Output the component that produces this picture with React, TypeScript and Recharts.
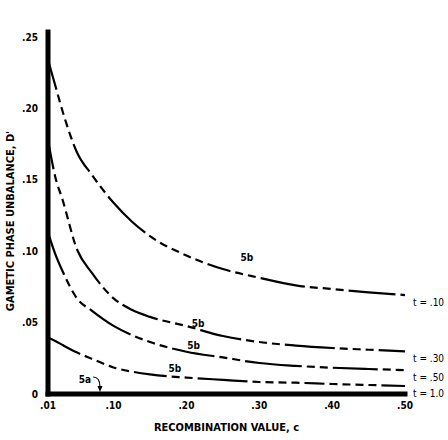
import { LineChart, Line, XAxis, YAxis, ReferenceDot, Label } from "recharts"

// recombination value c (x) and gametic phase unbalance D' for each t
const C_VALUES = [0.01, 0.02, 0.03, 0.05, 0.07, 0.1, 0.125, 0.15, 0.2, 0.25, 0.3, 0.35, 0.4, 0.45, 0.5]
const D_T10 = [0.234, 0.216, 0.198, 0.169, 0.1536, 0.1339, 0.1208, 0.1105, 0.097, 0.0875, 0.0814, 0.0761, 0.0735, 0.0712, 0.0693]
const D_T30 = [0.178, 0.152, 0.136, 0.101, 0.085, 0.067, 0.059, 0.054, 0.0476, 0.0406, 0.0364, 0.0339, 0.0322, 0.031, 0.0298]
const D_T50 = [0.113, 0.098, 0.086, 0.0668, 0.0584, 0.0477, 0.0413, 0.0364, 0.0296, 0.0256, 0.0217, 0.0197, 0.0184, 0.0175, 0.0167]
const D_T100 = [0.0395, 0.0371, 0.0343, 0.029, 0.0247, 0.0186, 0.0157, 0.0137, 0.0115, 0.0099, 0.0084, 0.0079, 0.007, 0.0063, 0.0056]

const SERIES_KEYS = ["t10", "t30", "t50", "t100"]
const SERIES_LABELS = ["t = .10", "t = .30", "t = .50", "t = 1.0"]
const SERIES_VALUES = [D_T10, D_T30, D_T50, D_T100]

const X_TICKS = [0.01, 0.1, 0.2, 0.3, 0.4, 0.5]
const X_TICK_LABELS = [".01", ".10", ".20", ".30", ".40", ".50"]
const Y_TICKS = [0, 0.05, 0.1, 0.15, 0.2, 0.25]
const Y_TICK_LABELS = ["0", ".05", ".10", ".15", ".20", ".25"]

// "5b" region notes, in data coordinates
const NOTE_5B_C = [0.283, 0.216, 0.21, 0.184]
const NOTE_5B_D = [0.0959, 0.0497, 0.0343, 0.0182]
const NOTE_5A = { c: 0.0608, d: 0.0105 }

const data = C_VALUES.map((c, i) => {
    const row: Record<string, number> = { c }
    SERIES_KEYS.forEach((k, s) => { row[k] = SERIES_VALUES[s][i] })
    return row
})

// alternating solid / dashed stretches along each curve (path lengths in px)
const SECTIONS = [
    [31, 55, 32, 30, 52, 65, 24, 26, 45, 37, 47],
    [30, 80, 42, 25, 38, 35, 42, 33, 50, 38, 43],
    [45, 35, 48, 39, 43, 25, 57, 23, 45],
    [36, 49, 33, 32, 50, 53, 20, 47, 33],
]

function dashPattern(sections: number[]): string {
    const out: number[] = []
    sections.forEach((len, i) => {
        if (i % 2 === 0) {
            out.push(len, 5)
        } else {
            const n = Math.max(1, Math.round(len / 13))
            for (let j = 0; j < n; j++) out.push(8, 5)
        }
    })
    for (let j = 0; j < 40; j++) out.push(8, 5)
    return out.join(" ")
}

const FONT = "'DejaVu Sans Condensed', 'DejaVu Sans', sans-serif"

// eslint-disable-next-line @typescript-eslint/no-explicit-any
function YTitle({ viewBox }: any) {
    const x = viewBox.x + 14
    const y = viewBox.y + viewBox.height / 2 + 8
    return (
        <text x={x} y={y} transform={`rotate(-90, ${x}, ${y})`} textAnchor="middle"
            fontFamily={FONT} fontSize={11} fontWeight="bold" fill="#000">
            GAMETIC PHASE UNBALANCE, D'
        </text>
    )
}

// eslint-disable-next-line @typescript-eslint/no-explicit-any
function XTitle({ viewBox }: any) {
    return (
        <text x={viewBox.x + viewBox.width / 2} y={viewBox.y + 37} textAnchor="middle"
            fontFamily={FONT} fontSize={11} fontWeight="bold" fill="#000">
            RECOMBINATION VALUE, c
        </text>
    )
}

export default function App() {
    const last = C_VALUES.length - 1
    return (
        <div style={{ position: "absolute", left: 0, top: 0, width: 448, height: 440, background: "#fff" }}>
            <LineChart width={448} height={440} data={data} margin={{ top: 32, right: 43, left: 0, bottom: 0 }}>
                <XAxis
                    dataKey="c"
                    type="number"
                    domain={[0.01, 0.5]}
                    ticks={X_TICKS}
                    tickFormatter={(v: number) => X_TICK_LABELS[X_TICKS.indexOf(v)] ?? ""}
                    tickLine={false}
                    axisLine={{ stroke: "#000", strokeWidth: 5, strokeLinecap: "square" }}
                    tick={{ fill: "#000", fontSize: 10, fontWeight: "bold", fontFamily: FONT }}
                    height={46}
                    allowDataOverflow
                >
                    <Label content={XTitle} />
                </XAxis>
                <YAxis
                    type="number"
                    domain={[0, 0.2535]}
                    ticks={Y_TICKS}
                    tickFormatter={(v: number) => Y_TICK_LABELS[Y_TICKS.indexOf(v)] ?? ""}
                    tickLine={false}
                    tickMargin={4}
                    axisLine={{ stroke: "#000", strokeWidth: 5, strokeLinecap: "square" }}
                    tick={{ fill: "#000", fontSize: 10, fontWeight: "bold", fontFamily: FONT }}
                    width={48}
                    allowDataOverflow
                >
                    <Label content={YTitle} />
                </YAxis>
                {SERIES_KEYS.map((k, s) => (
                    <Line
                        key={k}
                        dataKey={k}
                        type="monotone"
                        stroke="#000"
                        strokeWidth={2.2}
                        strokeDasharray={dashPattern(SECTIONS[s])}
                        dot={false}
                        activeDot={false}
                        isAnimationActive={false}
                    />
                ))}
                {SERIES_KEYS.map((k, s) => (
                    <ReferenceDot
                        key={`end-${k}`}
                        x={C_VALUES[last]}
                        y={SERIES_VALUES[s][last]}
                        r={0}
                        ifOverflow="visible"
                        // eslint-disable-next-line @typescript-eslint/no-explicit-any
                        shape={(p: any) => (
                            <text x={p.cx + 8} y={p.cy + 11} fontFamily={FONT} fontSize={10} fill="#000">
                                {SERIES_LABELS[s]}
                            </text>
                        )}
                    />
                ))}
                {NOTE_5B_C.map((c, i) => (
                    <ReferenceDot
                        key={`5b-${i}`}
                        x={c}
                        y={NOTE_5B_D[i]}
                        r={0}
                        ifOverflow="visible"
                        // eslint-disable-next-line @typescript-eslint/no-explicit-any
                        shape={(p: any) => (
                            <text x={p.cx} y={p.cy + 4} textAnchor="middle" fontFamily={FONT}
                                fontSize={10} fontWeight="bold" fill="#000">5b</text>
                        )}
                    />
                ))}
                <ReferenceDot
                    x={NOTE_5A.c}
                    y={NOTE_5A.d}
                    r={0}
                    ifOverflow="visible"
                    // eslint-disable-next-line @typescript-eslint/no-explicit-any
                    shape={(p: any) => (
                        <g>
                            <text x={p.cx} y={p.cy + 4} textAnchor="middle" fontFamily={FONT}
                                fontSize={10} fontWeight="bold" fill="#000">5a</text>
                            <path d={`M ${p.cx + 8} ${p.cy - 2} Q ${p.cx + 15} ${p.cy - 2} ${p.cx + 15} ${p.cy + 8}`}
                                fill="none" stroke="#000" strokeWidth={1.2} />
                            <path d={`M ${p.cx + 12.5} ${p.cy + 7} L ${p.cx + 17.5} ${p.cy + 7} L ${p.cx + 15} ${p.cy + 13} Z`}
                                fill="#000" />
                        </g>
                    )}
                />
            </LineChart>
        </div>
    )
}
